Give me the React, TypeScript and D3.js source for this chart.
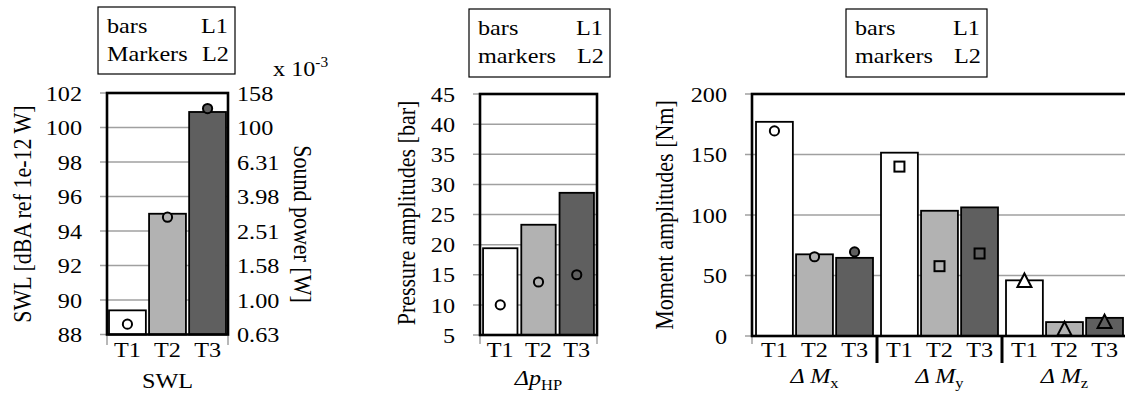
import React from 'react';
import * as d3 from 'd3';

// ---------- data ----------
const trials = ["T1", "T2", "T3"];
const trialFills = ["#ffffff", "#b2b2b2", "#5f5f5f"];

const swlBars = [89.4, 95.0, 100.9];
const swlMarkers = [88.6, 94.8, 101.1];
const swlTicks = [88, 90, 92, 94, 96, 98, 100, 102];
const soundPowerLabels = ["0.63", "1.00", "1.58", "2.51", "3.98", "6.31", "100", "158"];

const pressureBars = [19.4, 23.3, 28.6];
const pressureMarkers = [10.0, 13.8, 15.0];
const pressureTicks = [5, 10, 15, 20, 25, 30, 35, 40, 45];

const momentGroups = ["x", "y", "z"];
const momentShapes = ["circle", "square", "triangle"];
const momentBarsX = [177, 67.5, 64.6];
const momentBarsY = [151.5, 103.5, 106.3];
const momentBarsZ = [46, 11.5, 15];
const momentMarkersX = [169.5, 65.5, 69.5];
const momentMarkersY = [140, 57.7, 68.2];
const momentMarkersZ = [45.9, 6.0, 11.9];
const momentTicks = [0, 50, 100, 150, 200];

const FONT = "'Liberation Serif', 'Times New Roman', 'DejaVu Serif', serif";
const FS = 22;
const SX = 1.1;
const GRID = "#a0a0a0";

// text, slightly widened like the reference
function T(props: any) {
  const { x, y, rot, style, ...rest } = props;
  const tf = rot
    ? `translate(${x},${y}) rotate(${rot}) scale(1,${SX})`
    : `translate(${x},${y}) scale(${SX},1)`;
  return <text {...rest} transform={tf} style={{ fontFamily: FONT, fontSize: FS, ...(style || {}) }} />;
}

function Marker({ shape, cx, cy, fill }: { shape: string; cx: number; cy: number; fill: string }) {
  if (shape === "square") {
    return <rect x={cx - 5} y={cy - 5} width={10} height={10} fill={fill} stroke="#000" strokeWidth={2} />;
  }
  if (shape === "triangle") {
    const p = d3.path();
    p.moveTo(cx, cy - 7);
    p.lineTo(cx + 7, cy + 6.5);
    p.lineTo(cx - 7, cy + 6.5);
    p.closePath();
    return <path d={p.toString()} fill={fill} stroke="#000" strokeWidth={2} strokeLinejoin="miter" />;
  }
  return <circle cx={cx} cy={cy} r={4.6} fill={fill} stroke="#000" strokeWidth={2} />;
}

function Legend({ x, y, w, h, second }: { x: number; y: number; w: number; h: number; second: string }) {
  return (
    <g>
      <rect x={x} y={y} width={w} height={h} fill="#fff" stroke="#000" strokeWidth={1.2} />
      <T x={x + 9} y={y + 26}>bars</T>
      <T x={x + w - 34} y={y + 26}>L1</T>
      <T x={x + 9} y={y + 54}>{second}</T>
      <T x={x + w - 33} y={y + 54}>L2</T>
    </g>
  );
}

function SwlChart() {
  const left = 107, right = 228;
  const y = d3.scaleLinear().domain([88, 102]).range([334.5, 93]);
  const x = d3.scaleBand<string>().domain(trials).range([left, right]).paddingInner(0.08).paddingOuter(0.05);
  return (
    <g>
      <Legend x={98} y={7} w={137} h={67} second="Markers" />
      {swlTicks.map((t) => (
        <line key={t} x1={100} x2={t === 88 || t === 102 ? left : right} y1={y(t)} y2={y(t)} stroke={GRID} strokeWidth={1.5} />
      ))}
      {swlTicks.map((t) => (
        <T key={"l" + t} x={82} y={y(t)} dy="0.35em" textAnchor="end">{t}</T>
      ))}
      {swlTicks.map((t, i) => (
        <T key={"r" + t} x={237} y={y(t)} dy="0.35em">{soundPowerLabels[i]}</T>
      ))}
      <line x1={left} x2={left} y1={334.5} y2={345} stroke={GRID} strokeWidth={1.5} />
      <line x1={right} x2={right} y1={334.5} y2={345} stroke={GRID} strokeWidth={1.5} />
      {trials.map((t, i) => (
        <rect key={t} x={x(t)!} y={y(swlBars[i])} width={x.bandwidth()} height={y(88) - y(swlBars[i])}
          fill={trialFills[i]} stroke="#000" strokeWidth={1.8} />
      ))}
      <rect x={left} y={93} width={right - left} height={334.5 - 93} fill="none" stroke="#000" strokeWidth={2.6} />
      {trials.map((t, i) => (
        <Marker key={"m" + t} shape="circle" cx={x(t)! + x.bandwidth() / 2} cy={y(swlMarkers[i])} fill={trialFills[i]} />
      ))}
      {trials.map((t) => (
        <T key={"x" + t} x={x(t)! + x.bandwidth() / 2} y={357} textAnchor="middle">{t}</T>
      ))}
      <T x={167.5} y={388} textAnchor="middle">SWL</T>
      <T x={23} y={214} rot={-90} textAnchor="middle" dy="0.35em">SWL [dBA ref 1e-12 W]</T>
      <T x={273} y={76}>x 10<tspan style={{ fontSize: 14 }} dy={-9}>-3</tspan></T>
      <T x={302} y={224} rot={90} textAnchor="middle" dy="0.35em">Sound power [W]</T>
    </g>
  );
}

function PressureChart() {
  const left = 480, right = 597;
  const y = d3.scaleLinear().domain([5, 45]).range([335, 94]);
  const x = d3.scaleBand<string>().domain(trials).range([left, right]).paddingInner(0.1).paddingOuter(0.08);
  return (
    <g>
      <Legend x={469} y={9} w={141} h={68} second="markers" />
      {pressureTicks.map((t) => (
        <line key={t} x1={473} x2={t === 5 || t === 45 ? left : right} y1={y(t)} y2={y(t)} stroke={GRID} strokeWidth={1.5} />
      ))}
      {pressureTicks.map((t) => (
        <T key={"l" + t} x={455} y={y(t)} dy="0.35em" textAnchor="end">{t}</T>
      ))}
      <line x1={left} x2={left} y1={335} y2={344} stroke={GRID} strokeWidth={1.5} />
      <line x1={right} x2={right} y1={335} y2={344} stroke={GRID} strokeWidth={1.5} />
      {trials.map((t, i) => (
        <rect key={t} x={x(t)!} y={y(pressureBars[i])} width={x.bandwidth()} height={y(5) - y(pressureBars[i])}
          fill={trialFills[i]} stroke="#000" strokeWidth={1.8} />
      ))}
      <rect x={left} y={94} width={right - left} height={335 - 94} fill="none" stroke="#000" strokeWidth={2.6} />
      {trials.map((t, i) => (
        <Marker key={"m" + t} shape="circle" cx={x(t)! + x.bandwidth() / 2} cy={y(pressureMarkers[i])} fill={trialFills[i]} />
      ))}
      {trials.map((t) => (
        <T key={"x" + t} x={x(t)! + x.bandwidth() / 2} y={357} textAnchor="middle">{t}</T>
      ))}
      <T x={538.5} y={385} textAnchor="middle">
        <tspan style={{ fontStyle: "italic" }}>Δp</tspan><tspan style={{ fontSize: 15 }} dy={5}>HP</tspan>
      </T>
      <T x={407} y={213} rot={-90} textAnchor="middle" dy="0.35em">Pressure amplitudes [bar]</T>
    </g>
  );
}

function MomentChart() {
  const left = 752;
  const bottom = 336, top = 94;
  const y = d3.scaleLinear().domain([0, 200]).range([bottom, top]);
  const gx = d3.scaleBand<string>().domain(momentGroups).range([left, left + 375]).padding(0);
  const ix = d3.scaleBand<string>().domain(trials).range([0, gx.bandwidth()]).paddingInner(0.08).paddingOuter(0.1);
  const bars = [momentBarsX, momentBarsY, momentBarsZ];
  const markers = [momentMarkersX, momentMarkersY, momentMarkersZ];
  const right = left + 375;
  return (
    <g>
      <Legend x={846} y={9} w={141} h={68} second="markers" />
      {momentTicks.map((t) => (
        <line key={t} x1={745} x2={t === 0 || t === 200 ? left : right} y1={y(t)} y2={y(t)} stroke={GRID} strokeWidth={1.5} />
      ))}
      {momentTicks.map((t) => (
        <T key={"l" + t} x={727} y={y(t)} dy="0.35em" textAnchor="end">{t}</T>
      ))}
      <line x1={left} x2={left} y1={bottom} y2={344} stroke={GRID} strokeWidth={1.5} />
      {momentGroups.map((g, gi) => (
        <g key={g}>
          {trials.map((t, i) => (
            <rect key={t} x={gx(g)! + ix(t)!} y={y(bars[gi][i])} width={ix.bandwidth()} height={bottom - y(bars[gi][i])}
              fill={trialFills[i]} stroke="#000" strokeWidth={1.8} />
          ))}
        </g>
      ))}
      <rect x={left} y={top} width={right - left} height={bottom - top} fill="none" stroke="#000" strokeWidth={2.6} />
      {momentGroups.map((g, gi) => (
        <g key={"m" + g}>
          {trials.map((t, i) => (
            <Marker key={t} shape={momentShapes[gi]} cx={gx(g)! + ix(t)! + ix.bandwidth() / 2} cy={y(markers[gi][i])} fill={trialFills[i]} />
          ))}
          {trials.map((t) => (
            <T key={"x" + t} x={gx(g)! + ix(t)! + ix.bandwidth() / 2} y={357} textAnchor="middle">{t}</T>
          ))}
          {gi > 0 && (
            <line x1={gx(g)!} x2={gx(g)!} y1={bottom} y2={363} stroke="#000" strokeWidth={3} />
          )}
          <T x={gx(g)! + gx.bandwidth() / 2} y={383} textAnchor="middle">
            <tspan style={{ fontStyle: "italic" }}>Δ M</tspan><tspan style={{ fontSize: 15 }} dy={5}>{g}</tspan>
          </T>
        </g>
      ))}
      <T x={665} y={215} rot={-90} textAnchor="middle" dy="0.35em">Moment amplitudes [Nm]</T>
    </g>
  );
}

export default function App() {
  return (
    <svg width={1125} height={396} viewBox="0 0 1125 396"
      style={{ position: "absolute", left: 0, top: 0, background: "#fff", fontFamily: FONT }}>
      <rect x={0} y={0} width={1125} height={396} fill="#fff" />
      <SwlChart />
      <PressureChart />
      <MomentChart />
    </svg>
  );
}
